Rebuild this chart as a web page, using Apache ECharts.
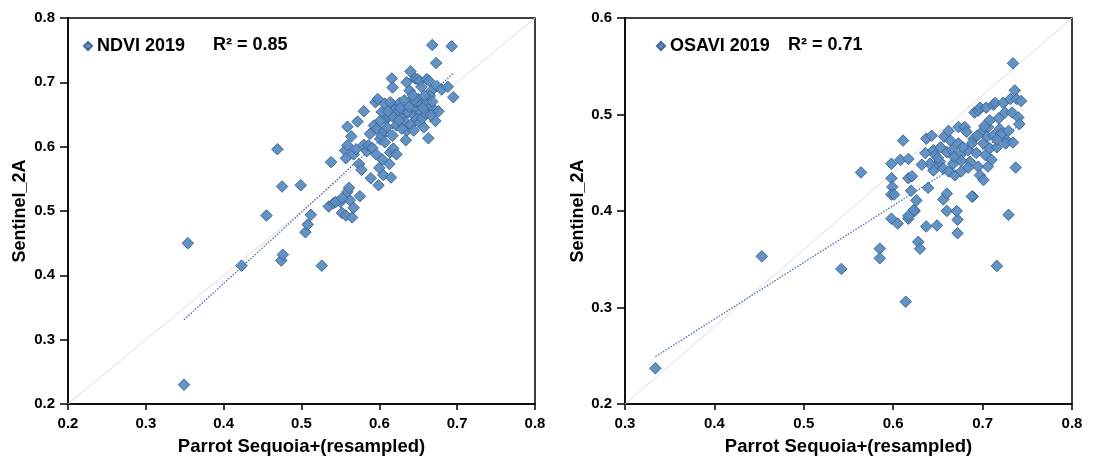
<!DOCTYPE html>
<html><head><meta charset="utf-8">
<script src="https://cdn.jsdelivr.net/npm/echarts@6/dist/echarts.min.js"></script>
<style>html,body{margin:0;padding:0;background:#fff}#c{width:1093px;height:461px}</style>
</head><body><div id="c"></div>
<script>
const ndviPoints = [
[0.349,0.230],[0.354,0.450],[0.423,0.415],[0.455,0.493],[0.474,0.423],[0.476,0.432],[0.469,0.596],[0.475,0.538],[0.499,0.540],
[0.505,0.467],[0.508,0.479],[0.512,0.494],[0.526,0.415],[0.535,0.507],[0.541,0.512],[0.550,0.514],[0.552,0.497],[0.557,0.493],
[0.565,0.490],[0.567,0.505],[0.562,0.517],[0.538,0.576],[0.544,0.514],[0.552,0.520],[0.559,0.530],[0.561,0.536],[0.575,0.523],
[0.556,0.594],[0.559,0.602],[0.557,0.582],[0.559,0.631],[0.564,0.616],[0.567,0.588],[0.572,0.639],[0.580,0.655],[0.580,0.603],
[0.574,0.573],[0.577,0.564],[0.584,0.593],[0.589,0.551],[0.599,0.540],[0.600,0.567],[0.605,0.556],[0.615,0.552],[0.613,0.573],
[0.614,0.591],[0.618,0.597],[0.622,0.588],[0.595,0.669],[0.598,0.674],[0.593,0.633],[0.597,0.628],[0.601,0.612],[0.603,0.617],
[0.607,0.607],[0.606,0.625],[0.609,0.643],[0.612,0.648],[0.603,0.654],[0.607,0.667],[0.616,0.706],[0.617,0.692],[0.618,0.664],
[0.620,0.658],[0.623,0.651],[0.626,0.668],[0.629,0.646],[0.631,0.658],[0.633,0.638],[0.635,0.625],[0.634,0.610],[0.637,0.653],
[0.640,0.717],[0.635,0.700],[0.639,0.687],[0.642,0.674],[0.644,0.661],[0.645,0.648],[0.640,0.634],[0.646,0.706],[0.649,0.705],
[0.652,0.702],[0.654,0.693],[0.650,0.674],[0.647,0.670],[0.654,0.666],[0.652,0.651],[0.648,0.643],[0.652,0.637],[0.657,0.630],
[0.655,0.644],[0.661,0.669],[0.663,0.658],[0.660,0.651],[0.661,0.705],[0.664,0.702],[0.667,0.687],[0.665,0.679],[0.670,0.658],
[0.672,0.640],[0.663,0.613],[0.674,0.694],[0.680,0.689],[0.688,0.693],[0.668,0.758],[0.673,0.730],[0.693,0.756],[0.695,0.677],
[0.658,0.679],[0.614,0.669],[0.627,0.660],[0.618,0.646],[0.601,0.640],[0.622,0.633],[0.610,0.630],[0.644,0.625],[0.617,0.617],
[0.586,0.602],[0.591,0.598],[0.570,0.596],[0.625,0.641],[0.629,0.628],[0.638,0.662],[0.656,0.660],[0.668,0.670],[0.676,0.655],
[0.666,0.649],[0.643,0.680],[0.632,0.672],[0.611,0.655],[0.588,0.620],[0.596,0.588],[0.604,0.580]
];
const ndviTrend = [[0.349,0.331],[0.695,0.714]];
const ndviDiag = [[0.2,0.2],[0.8,0.8]];

const osaviPoints = [
[0.334,0.237],[0.453,0.353],[0.542,0.340],[0.585,0.361],[0.585,0.351],[0.598,0.392],[0.605,0.387],[0.617,0.392],[0.617,0.395],
[0.624,0.400],[0.614,0.306],[0.628,0.368],[0.630,0.361],[0.637,0.384],[0.649,0.385],[0.660,0.400],[0.672,0.391],[0.672,0.377],
[0.656,0.412],[0.689,0.415],[0.716,0.343],[0.729,0.396],[0.564,0.440],[0.598,0.449],[0.598,0.434],[0.599,0.425],[0.598,0.417],
[0.601,0.417],[0.608,0.453],[0.611,0.473],[0.617,0.454],[0.617,0.434],[0.621,0.436],[0.620,0.421],[0.623,0.401],[0.636,0.460],
[0.637,0.475],[0.643,0.478],[0.639,0.424],[0.645,0.463],[0.647,0.458],[0.649,0.449],[0.645,0.442],[0.652,0.451],[0.656,0.444],
[0.657,0.477],[0.660,0.461],[0.662,0.483],[0.664,0.473],[0.662,0.441],[0.660,0.418],[0.666,0.463],[0.667,0.449],[0.669,0.437],
[0.673,0.487],[0.673,0.470],[0.675,0.458],[0.676,0.441],[0.671,0.400],[0.680,0.487],[0.682,0.482],[0.684,0.463],[0.686,0.451],
[0.688,0.415],[0.690,0.475],[0.691,0.502],[0.695,0.504],[0.697,0.507],[0.693,0.460],[0.695,0.446],[0.697,0.437],[0.701,0.432],
[0.699,0.482],[0.701,0.470],[0.703,0.458],[0.704,0.507],[0.706,0.487],[0.705,0.477],[0.708,0.465],[0.710,0.453],[0.712,0.510],
[0.714,0.512],[0.712,0.478],[0.716,0.466],[0.719,0.485],[0.721,0.480],[0.723,0.512],[0.725,0.502],[0.727,0.473],[0.726,0.470],
[0.729,0.483],[0.731,0.516],[0.734,0.553],[0.736,0.525],[0.733,0.502],[0.734,0.471],[0.738,0.516],[0.743,0.514],[0.740,0.497],
[0.741,0.490],[0.737,0.445],[0.650,0.455],[0.668,0.456],[0.678,0.466],[0.688,0.470],[0.694,0.478],[0.702,0.488],[0.716,0.474],
[0.684,0.445],[0.676,0.452],[0.653,0.466],[0.641,0.449],[0.632,0.448],[0.626,0.411],[0.706,0.446],[0.718,0.496],[0.708,0.494]
];
const osaviTrend = [[0.334,0.249],[0.740,0.488]];
const osaviDiag = [[0.3,0.2],[0.8,0.6]];

const xTicksLeft = {min:0.2,max:0.8,interval:0.1};
const yTicksLeft = {min:0.2,max:0.8,interval:0.1};
const xTicksRight = {min:0.3,max:0.8,interval:0.1};
const yTicksRight = {min:0.2,max:0.6,interval:0.1};

const FONT = '"Liberation Sans", Arial, sans-serif';
const markerFill = '#5b8cc2';
const markerBorder = '#3d6592';

function xAxis(idx, t){
  return {gridIndex:idx, type:'value', min:t.min, max:t.max, interval:t.interval,
    name:'Parrot Sequoia+(resampled)', nameLocation:'middle', nameGap:33,
    nameTextStyle:{fontFamily:FONT,fontWeight:'bold',fontSize:18.5,color:'#000'},
    axisLine:{show:true,onZero:false,lineStyle:{color:'#000',width:1.5}},
    axisTick:{show:true,length:6,lineStyle:{color:'#000',width:1.5}},
    axisLabel:{fontFamily:FONT,fontWeight:'bold',fontSize:15,color:'#000',margin:12,formatter:v=>v.toFixed(1)},
    splitLine:{show:false}};
}
function yAxis(idx, t, gap){
  return {gridIndex:idx, type:'value', min:t.min, max:t.max, interval:t.interval,
    name:'Sentinel_2A', nameLocation:'middle', nameGap:gap,
    nameTextStyle:{fontFamily:FONT,fontWeight:'bold',fontSize:18,color:'#000'},
    axisLine:{show:true,onZero:false,lineStyle:{color:'#000',width:1.5}},
    axisTick:{show:true,length:8,lineStyle:{color:'#000',width:1.5}},
    axisLabel:{fontFamily:FONT,fontWeight:'bold',fontSize:15,color:'#000',margin:13,formatter:v=>v.toFixed(1)},
    splitLine:{show:false}};
}
function scatter(name, idx, data){
  return {name:name, type:'scatter', xAxisIndex:idx, yAxisIndex:idx, data:data,
    symbol:'diamond', symbolSize:11.5, z:3,
    itemStyle:{color:markerFill, borderColor:markerBorder, borderWidth:1, opacity:0.95}};
}
function line(idx, data, style, z){
  return {type:'line', xAxisIndex:idx, yAxisIndex:idx, data:data, symbol:'none', silent:true,
    lineStyle:style, z:z, animation:false};
}
const legendText = {fontFamily:FONT,fontWeight:'bold',fontSize:18,color:'#000'};

const chart = echarts.init(document.getElementById('c'));
chart.setOption({
  animation:false,
  backgroundColor:'#fff',
  grid:[
    {left:68, right:558, top:18, bottom:53, show:true, borderColor:'#000', borderWidth:1.5},
    {left:625, right:21, top:18, bottom:53, show:true, borderColor:'#000', borderWidth:1.5}
  ],
  xAxis:[xAxis(0,xTicksLeft), xAxis(1,xTicksRight)],
  yAxis:[yAxis(0,yTicksLeft,39), yAxis(1,yTicksRight,36)],
  legend:[
    {data:['NDVI 2019'], left:78, top:32, icon:'diamond', itemWidth:8, itemHeight:8, textStyle:legendText},
    {data:['OSAVI 2019'], left:651, top:32, icon:'diamond', itemWidth:8, itemHeight:8, textStyle:legendText}
  ],
  title:[
    {text:'R² = 0.85', left:208, top:31, textStyle:legendText},
    {text:'R² = 0.71', left:783, top:31, textStyle:legendText}
  ],
  series:[
    line(0, ndviDiag, {color:'#dcdcdc', width:1}, 1),
    line(0, ndviTrend, {color:'#4a6fb0', width:1.3, type:[1.5,1.5]}, 2),
    scatter('NDVI 2019', 0, ndviPoints),
    line(1, osaviDiag, {color:'#dcdcdc', width:1}, 1),
    line(1, osaviTrend, {color:'#4a6fb0', width:1.3, type:[1.5,1.5]}, 2),
    scatter('OSAVI 2019', 1, osaviPoints)
  ]
});
</script></body></html>
